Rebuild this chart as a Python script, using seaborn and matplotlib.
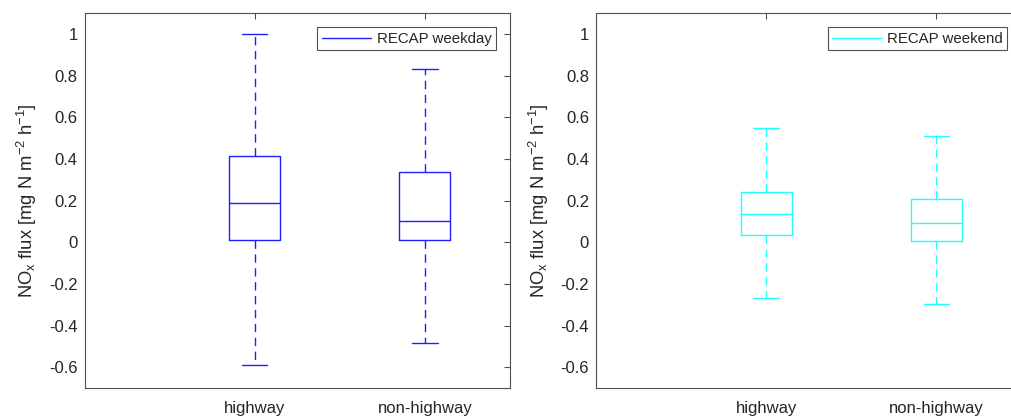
import numpy as np
import pandas as pd
import matplotlib
matplotlib.use("Agg")
import matplotlib.pyplot as plt
from matplotlib.lines import Line2D
from matplotlib.ticker import FuncFormatter
import seaborn as sns

# ---- data: min, q1, median, q3, max ----
categories = ["highway", "non-highway"]
positions = [1, 2]
weekday_highway = [-0.590, 0.012, 0.186, 0.413, 1.000]
weekday_nonhighway = [-0.483, 0.009, 0.100, 0.337, 0.831]
weekend_highway = [-0.270, 0.034, 0.133, 0.240, 0.547]
weekend_nonhighway = [-0.297, 0.006, 0.093, 0.206, 0.509]
series_labels = ["RECAP weekday", "RECAP weekend"]
yticks = [-0.6, -0.4, -0.2, 0, 0.2, 0.4, 0.6, 0.8, 1]

sns.set_style("white")
plt.rcParams["font.family"] = ["Liberation Sans", "DejaVu Sans"]
plt.rcParams["mathtext.fontset"] = "custom"
plt.rcParams["mathtext.rm"] = "Liberation Sans"
plt.rcParams["mathtext.it"] = "Liberation Sans"
plt.rcParams["axes.unicode_minus"] = False

fig = plt.figure(figsize=(10.11, 4.16), dpi=100)
ax1 = fig.add_axes([0.0836, 0.0673, 0.4209, 0.9014])
ax2 = fig.add_axes([0.5895, 0.0673, 0.4209, 0.9014])

spine_col = "#505050"
text_col = "#262626"


def make_df(a, b):
    return pd.DataFrame({
        "pos": [positions[0]] * len(a) + [positions[1]] * len(b),
        "value": list(a) + list(b),
    })


def draw(ax, df, color, label):
    sns.boxplot(data=df, x="pos", y="value", native_scale=True, fill=False,
                color=color, linecolor=color, width=0.3, whis=(0, 100),
                linewidth=1.0, showfliers=False,
                whiskerprops={"linestyle": (0, (6, 4))},
                ax=ax)
    ax.set_xlim(0, 2.5)
    ax.set_ylim(-0.7, 1.1)
    ax.set_xticks(positions)
    ax.set_xticklabels(categories)
    ax.set_yticks(yticks)
    ax.yaxis.set_major_formatter(FuncFormatter(lambda v, p: "%g" % round(v, 3)))
    ax.set_xlabel("")
    ax.set_ylabel(r"NO$_\mathregular{x}$ flux [mg N m$^\mathregular{-2}$ h$^\mathregular{-1}$]",
                  fontsize=13.2, color=text_col, labelpad=7)
    ax.tick_params(direction="in", top=True, right=True, length=4, width=0.8,
                   color=spine_col, labelsize=12, labelcolor=text_col)
    ax.tick_params(axis="y", pad=5)
    ax.tick_params(axis="x", pad=9)
    for s in ax.spines.values():
        s.set_visible(True)
        s.set_color(spine_col)
        s.set_linewidth(0.8)
    h = Line2D([], [], color=color, lw=1.0)
    leg = ax.legend([h], [label], loc="upper right", fontsize=10.8, frameon=True,
                    fancybox=False, framealpha=1, edgecolor=spine_col,
                    borderaxespad=0.95, handlelength=3.3, handletextpad=0.35,
                    borderpad=0.3)
    leg.get_frame().set_linewidth(0.8)
    for t in leg.get_texts():
        t.set_color(text_col)


draw(ax1, make_df(weekday_highway, weekday_nonhighway), "#1f1fff", series_labels[0])
draw(ax2, make_df(weekend_highway, weekend_nonhighway), "#22ffff", series_labels[1])

fig.savefig("out.png", dpi=100)
